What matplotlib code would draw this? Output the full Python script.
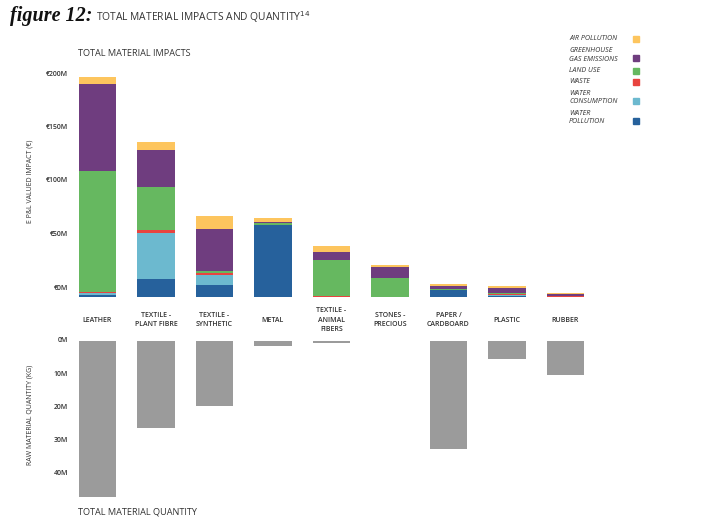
import matplotlib
matplotlib.use("Agg")
import matplotlib.pyplot as plt
import matplotlib.transforms as mtransforms
from matplotlib.patches import Rectangle
import numpy as np

plt.rcParams['font.family'] = ['Open Sans', 'DejaVu Sans']

categories = ["LEATHER", "TEXTILE -\nPLANT FIBRE", "TEXTILE -\nSYNTHETIC", "METAL",
              "TEXTILE -\nANIMAL\nFIBERS", "STONES -\nPRECIOUS", "PAPER /\nCARDBOARD",
              "PLASTIC", "RUBBER"]

# EP&L valued impact, € millions (stack order bottom -> top)
water_pollution   = [2.0, 16.8, 11.5, 67.0, 0.2, 0.1, 6.2, 1.2, 0.3]
water_consumption = [1.5, 43.0, 8.7, 0.3, 0.2, 0.1, 0.4, 0.6, 0.1]
waste             = [1.5, 3.1, 2.2, 0.3, 1.0, 0.1, 0.3, 1.4, 0.1]
land_use          = [112.7, 40.2, 1.9, 1.9, 33.6, 17.8, 0.9, 0.3, 0.3]
ghg_emissions     = [81.7, 34.3, 39.3, 0.9, 6.9, 10.0, 2.5, 4.6, 1.8]
air_pollution     = [6.2, 7.8, 11.8, 3.4, 6.2, 1.6, 2.2, 2.4, 0.9]

# Raw material quantity, million kg
quantity = [46.8, 26.2, 19.7, 1.5, 0.6, 0.0, 32.5, 5.6, 10.4]

series_names = ["WATER\nPOLLUTION", "WATER\nCONSUMPTION", "WASTE", "LAND USE",
                "GREENHOUSE\nGAS EMISSIONS", "AIR POLLUTION"]
series_colors = ["#26619c", "#6cb9cf", "#e8443f", "#66b860", "#6f3d7f", "#fdc55e"]

impact_ticks = [0, 50, 100, 150, 200]
impact_tick_labels = ["€0M", "€50M", "€100M", "€150M", "€200M"]
qty_ticks = [0, 10, 20, 30, 40]
qty_tick_labels = ["0M", "10M", "20M", "30M", "40M"]

W, H = 720, 527
fig = plt.figure(figsize=(W / 100, H / 100), dpi=100)

def fx(px):
    return px / W

def fy(py):
    return 1 - py / H

text_col = "#333333"

# ---------- top axes (impacts) ----------
top_px, base_px = 70, 297
ax1 = fig.add_axes([fx(68.25), fy(base_px), fx(594.75) - fx(68.25), fy(top_px) - fy(base_px)])
x = np.arange(len(categories))
series = [water_pollution, water_consumption, waste, land_use, ghg_emissions, air_pollution]
bottom = np.zeros(len(categories))
for vals, col in zip(series, series_colors):
    ax1.bar(x, vals, width=0.64, bottom=bottom, color=col, edgecolor="none")
    bottom += np.array(vals)
ax1.set_xlim(-0.5, 8.5)
ax1.set_ylim(0, (base_px - top_px) / 1.07)
for s in ax1.spines.values():
    s.set_visible(False)
ax1.set_xticks([])
ax1.set_yticks([])
off = mtransforms.ScaledTranslation(0, 9 / 100, fig.dpi_scale_trans)
ytr = mtransforms.blended_transform_factory(fig.transFigure, ax1.transData) + off
for t, lab in zip(impact_ticks, impact_tick_labels):
    fig.text(fx(68), t, lab, transform=ytr, ha="right", va="center",
             fontsize=5, color=text_col, fontweight="semibold")
fig.text(fx(30), fy(181), "E P&L VALUED IMPACT (€)", rotation=90, ha="center",
         va="center", fontsize=5, color=text_col)

# ---------- bottom axes (quantity) ----------
qtop_px, qbot_px = 340.7, 500
ax2 = fig.add_axes([fx(68.25), fy(qbot_px), fx(594.75) - fx(68.25), fy(qtop_px) - fy(qbot_px)])
ax2.bar(x, quantity, width=0.64, color="#9b9b9b", edgecolor="none")
ax2.set_xlim(-0.5, 8.5)
ax2.set_ylim((qbot_px - qtop_px) / 3.33, 0)
for s in ax2.spines.values():
    s.set_visible(False)
ax2.set_xticks([])
ax2.set_yticks([])
ytr2 = mtransforms.blended_transform_factory(fig.transFigure, ax2.transData)
for t, lab in zip(qty_ticks, qty_tick_labels):
    fig.text(fx(68), t, lab, transform=ytr2, ha="right", va="center",
             fontsize=5, color=text_col, fontweight="semibold")
fig.text(fx(30), fy(415), "RAW MATERIAL QUANTITY (KG)", rotation=90, ha="center",
         va="center", fontsize=5, color=text_col)

# category labels between the panels
ctr = mtransforms.blended_transform_factory(ax2.transData, fig.transFigure)
for i, c in enumerate(categories):
    ax2.text(i, fy(320), c, transform=ctr, ha="center", va="center", fontsize=5,
             color=text_col, linespacing=1.55, fontweight="semibold", clip_on=False)

# section headings
fig.text(fx(78), fy(54), "TOTAL MATERIAL IMPACTS", ha="left", va="center",
         fontsize=6.6, color=text_col)
fig.text(fx(78), fy(512), "TOTAL MATERIAL QUANTITY", ha="left", va="center",
         fontsize=6.6, color=text_col)

# title
fig.text(fx(10), fy(21), "figure 12:", ha="left", va="baseline", fontsize=14.5,
         family="Liberation Serif", style="italic", fontweight="bold", color="#111111")
fig.text(fx(96), fy(21), "TOTAL MATERIAL IMPACTS AND QUANTITY$^{14}$", ha="left",
         va="baseline", fontsize=7.4, color=text_col)

# legend (top to bottom = reverse stack order)
leg_y = [39, 55, 70.7, 81.7, 97.3, 117.3]
sw_y = [39, 58, 70.7, 81.7, 101, 120.7]
for name, col, ly, sy in zip(series_names[::-1], series_colors[::-1], leg_y, sw_y):
    fig.text(fx(569), fy(ly), name, ha="left", va="center", fontsize=5.1,
             style="italic", color=text_col, linespacing=1.3)
    fig.patches.append(Rectangle((fx(633), fy(sy + 3)), fx(6), 6 / H,
                                 transform=fig.transFigure, color=col))

fig.savefig("out.png", dpi=100)
